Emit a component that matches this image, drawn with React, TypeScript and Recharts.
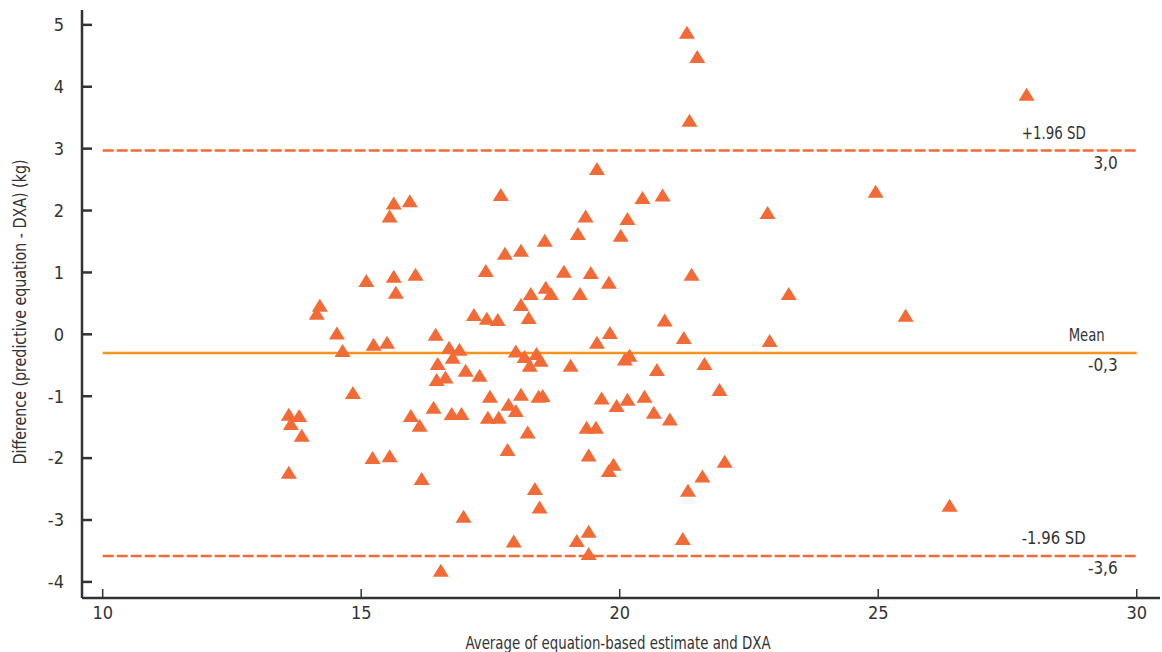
import {ScatterChart, Scatter, XAxis, YAxis, ReferenceLine, Label} from 'recharts';

// average of equation-based estimate and DXA (kg)
const avgValues = [
    13.6, 13.6, 13.64, 13.8, 13.85, 14.14, 14.2, 14.53, 14.64, 14.84,
    15.1, 15.24, 15.22, 15.5, 15.55, 15.55, 15.63, 15.63, 15.67, 15.94,
    15.96, 16.05, 16.13, 16.17, 16.4, 16.44, 16.46, 16.48, 16.54, 16.63,
    16.7, 16.75, 16.77, 16.9, 16.94, 16.98, 17.02, 17.18, 17.29, 17.41,
    17.43, 17.45, 17.49, 17.64, 17.66, 17.7, 17.78, 17.83, 17.85, 17.95,
    17.99, 17.99, 18.09, 18.09, 18.09, 18.16, 18.22, 18.24, 18.26, 18.28,
    18.36, 18.39, 18.43, 18.45, 18.47, 18.51, 18.55, 18.57, 18.67, 18.92,
    19.05, 19.17, 19.19, 19.23, 19.34, 19.36, 19.4, 19.4, 19.4, 19.44,
    19.54, 19.56, 19.56, 19.65, 19.79, 19.81, 19.79, 19.88, 19.94, 20.02,
    20.1, 20.15, 20.15, 20.19, 20.44, 20.48, 20.66, 20.72, 20.83, 20.87,
    20.97, 21.22, 21.24, 21.3, 21.32, 21.35, 21.39, 21.5, 21.6, 21.64,
    21.93, 22.03, 22.86, 22.9, 23.27, 24.95, 25.53, 26.38, 27.87,
];

// difference (predictive equation - DXA) (kg)
const diffValues = [
    -2.23, -1.29, -1.44, -1.31, -1.63, 0.34, 0.47, 0.02, -0.26, -0.94,
    0.87, -0.16, -1.99, -0.13, -1.96, 1.91, 2.12, 0.94, 0.68, 2.16,
    -1.31, 0.97, -1.47, -2.33, -1.18, 0.0, -0.73, -0.47, -3.81, -0.69,
    -0.21, -1.28, -0.37, -0.24, -1.28, -2.94, -0.58, 0.32, -0.66, 1.03,
    0.26, -1.34, -1.0, 0.24, -1.34, 2.26, 1.31, -1.86, -1.13, -3.34,
    -0.27, -1.23, 1.36, 0.48, -0.97, -0.36, -1.58, 0.27, -0.5, 0.66,
    -2.49, -0.31, -1.0, -2.79, -0.42, -0.99, 1.52, 0.76, 0.66, 1.02,
    -0.5, -3.33, 1.63, 0.66, 1.91, -1.5, -1.95, -3.18, -3.54, 1.0,
    -1.5, -0.13, 2.68, -1.03, 0.84, 0.03, -2.2, -2.1, -1.15, 1.6,
    -0.4, -1.05, 1.87, -0.34, 2.21, -1.0, -1.26, -0.57, 2.25, 0.23,
    -1.37, -3.3, -0.05, 4.88, -2.52, 3.46, 0.97, 4.49, -2.29, -0.47,
    -0.89, -2.05, 1.97, -0.1, 0.66, 2.31, 0.31, -2.76, 3.88,
];

const xTicks = [10, 15, 20, 25, 30];
const yTicks = [-4, -3, -2, -1, 0, 1, 2, 3, 4, 5];

// limits of agreement + mean
const limitNames = ['+1.96 SD', 'Mean', '-1.96 SD'];
const limitValues = [2.97, -0.3, -3.58];
const limitTexts = ['3,0', '-0,3', '-3,6'];
const limitRange = [10, 30];

const FONT = "'Liberation Sans Narrow', 'DejaVu Sans Condensed', 'Roboto Condensed', sans-serif";
const TEXT = '#333';
const ORANGE = '#f26a35';
const MEAN = '#f7941d';

const data = avgValues.map((x, i) => ({x, y: diffValues[i]}));

// triangle centred on its bounding box, like the original markers
const Triangle = (props: any) => {
    const {cx, cy} = props;
    return <path d={`M${cx},${cy - 6.5}L${cx + 8},${cy + 6.5}L${cx - 8},${cy + 6.5}Z`} fill={ORANGE}/>;
};

const YTick = (props: any) => {
    const {x, y, payload} = props;
    const axisX = x + 18;
    return (
        <g>
            <line x1={axisX} x2={axisX + 10} y1={y} y2={y} stroke={TEXT} strokeWidth={2.5}/>
            <text x={x} y={y} dy="0.35em" textAnchor="end" fill={TEXT} fontSize={18} fontFamily={FONT}>{payload.value}</text>
        </g>
    );
};

const XTick = (props: any) => {
    const {x, y, payload} = props;
    const axisY = y - 7;
    return (
        <g>
            <line x1={x} x2={x} y1={axisY} y2={axisY - 9} stroke={TEXT} strokeWidth={1.5}/>
            <text x={x} y={y} dy="0.75em" textAnchor="middle" fill={TEXT} fontSize={18} fontFamily={FONT}>{payload.value}</text>
        </g>
    );
};

const limitLabel = (name: string, text: string, nameShift: number, nameWidth: number) => (props: any) => {
    const {viewBox} = props;
    const right = viewBox.x + viewBox.width;
    const y = viewBox.y;
    return (
        <g fontFamily={FONT} fontSize={17} fill={TEXT}>
            <text x={right - nameShift} y={y - 12} textAnchor="end" textLength={nameWidth} lengthAdjust="spacingAndGlyphs">{name}</text>
            <text x={right - 19} y={y + 18} textAnchor="end">{text}</text>
        </g>
    );
};

export default function App() {
    return (
        <div style={{position: 'absolute', left: 0, top: 0, fontFamily: FONT}}>
            <ScatterChart width={1162} height={652} margin={{top: 10, right: 2, bottom: 24, left: 0}}>
                <XAxis
                    type="number"
                    dataKey="x"
                    domain={[9.6, 30.45]}
                    ticks={xTicks}
                    allowDataOverflow
                    height={30}
                    tickSize={0}
                    tickMargin={7}
                    tickLine={false}
                    tick={<XTick/>}
                    axisLine={{stroke: TEXT, strokeWidth: 2.5}}
                >
                    <Label
                        value="Average of equation-based estimate and DXA"
                        content={(p: any) => (
                            <text x={p.viewBox.x + p.viewBox.width / 2 - 3} y={649} textAnchor="middle"
                                  textLength={305} lengthAdjust="spacingAndGlyphs"
                                  fill={TEXT} fontSize={18} fontFamily={FONT}>
                                Average of equation-based estimate and DXA
                            </text>
                        )}
                    />
                </XAxis>
                <YAxis
                    type="number"
                    dataKey="y"
                    domain={[-4.26, 5.24]}
                    ticks={yTicks}
                    allowDataOverflow
                    width={82}
                    tickSize={0}
                    tickMargin={18}
                    tickLine={false}
                    tick={<YTick/>}
                    axisLine={{stroke: TEXT, strokeWidth: 2.5}}
                >
                    <Label
                        value="Difference (predictive equation - DXA) (kg)"
                        content={(p: any) => {
                            const cx = 20;
                            const cy = p.viewBox.y + p.viewBox.height / 2 + 8;
                            return (
                                <text x={cx} y={cy} dy="0.35em" textAnchor="middle" transform={`rotate(-90, ${cx}, ${cy})`}
                                      textLength={305} lengthAdjust="spacingAndGlyphs"
                                      fill={TEXT} fontSize={18} fontFamily={FONT}>
                                    Difference (predictive equation - DXA) (kg)
                                </text>
                            );
                        }}
                    />
                </YAxis>
                {limitValues.map((v, i) => (
                    <ReferenceLine
                        key={limitNames[i]}
                        segment={[{x: limitRange[0], y: v}, {x: limitRange[1], y: v}]}
                        stroke={i === 1 ? MEAN : ORANGE}
                        strokeWidth={2.5}
                        strokeDasharray={i === 1 ? undefined : '11 3'}
                        ifOverflow="visible"
                        label={limitLabel(limitNames[i], limitTexts[i], i === 1 ? 32 : 51, i === 1 ? 36 : 64)}
                    />
                ))}
                <Scatter data={data} shape={<Triangle/>} fill={ORANGE} isAnimationActive={false}/>
            </ScatterChart>
        </div>
    );
}
